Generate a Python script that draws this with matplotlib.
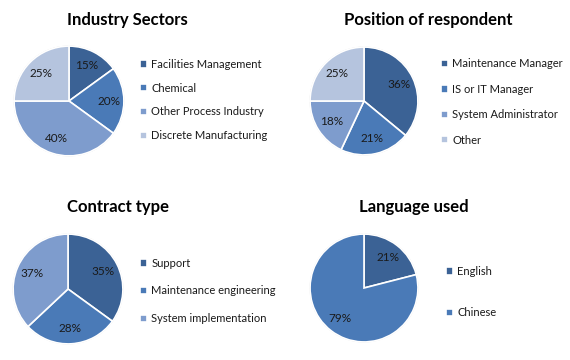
import matplotlib.pyplot as plt
from matplotlib.patches import Circle

plt.rcParams['font.family'] = ['Lato', 'DejaVu Sans']

# data
sector_labels = ['Facilities Management', 'Chemical', 'Other Process Industry', 'Discrete Manufacturing']
sector_values = [15, 20, 40, 25]

position_labels = ['Maintenance Manager', 'IS or IT Manager', 'System Administrator', 'Other']
position_values = [36, 21, 18, 25]

contract_labels = ['Support', 'Maintenance engineering', 'System implementation']
contract_values = [35, 28, 37]

language_labels = ['English', 'Chinese']
language_values = [21, 79]

colors = ['#3b6295', '#4a7ab7', '#7e9ccd', '#b5c4de']

W, H = 570, 360
fig = plt.figure(figsize=(W / 100, H / 100), dpi=100)

# title, pie centre (px), radius, legend left x, legend centre y, label spacing
panels = [
    ('Industry Sectors', sector_values, sector_labels, (127, 20), (69, 101), 56, 140, 100, 1.15),
    ('Position of respondent', position_values, position_labels, (428, 20), (364, 101), 55, 441, 102, 1.3),
    ('Contract type', contract_values, contract_labels, (118, 207), (68, 289), 56, 140, 291, 1.5),
    ('Language used', language_values, language_labels, (414, 207), (364, 288), 55, 446, 292, 2.75),
]

for title, vals, labs, tpos, c, r, lx, ly, lsp in panels:
    ax = fig.add_axes([(c[0] - r) / W, 1 - (c[1] + r) / H, 2 * r / W, 2 * r / H])
    wedges, texts, autotexts = ax.pie(
        vals, colors=colors[:len(vals)], startangle=90, counterclock=False,
        autopct=lambda p: f'{p:.0f}%', pctdistance=0.72,
        wedgeprops=dict(edgecolor='white', linewidth=1.2),
        textprops=dict(fontsize=8.5, color='#1a1a1a'))
    ax.add_patch(Circle((0, 0), 1.0, fill=False, edgecolor='#d0d0d0', linewidth=0.8, zorder=0))
    ax.set_xlim(-1.02, 1.02)
    ax.set_ylim(-1.02, 1.02)
    fig.text(tpos[0] / W, 1 - tpos[1] / H, title, ha='center', va='center',
             fontsize=12, fontweight='bold', color='black')
    fig.legend(wedges, labs, loc='center left', bbox_to_anchor=(lx / W, 1 - ly / H),
               frameon=False, fontsize=8, handlelength=0.65, handleheight=0.65,
               handletextpad=0.35, labelspacing=lsp, borderpad=0, borderaxespad=0,
               labelcolor='#1a1a1a')

fig.savefig('out.png', dpi=100)
